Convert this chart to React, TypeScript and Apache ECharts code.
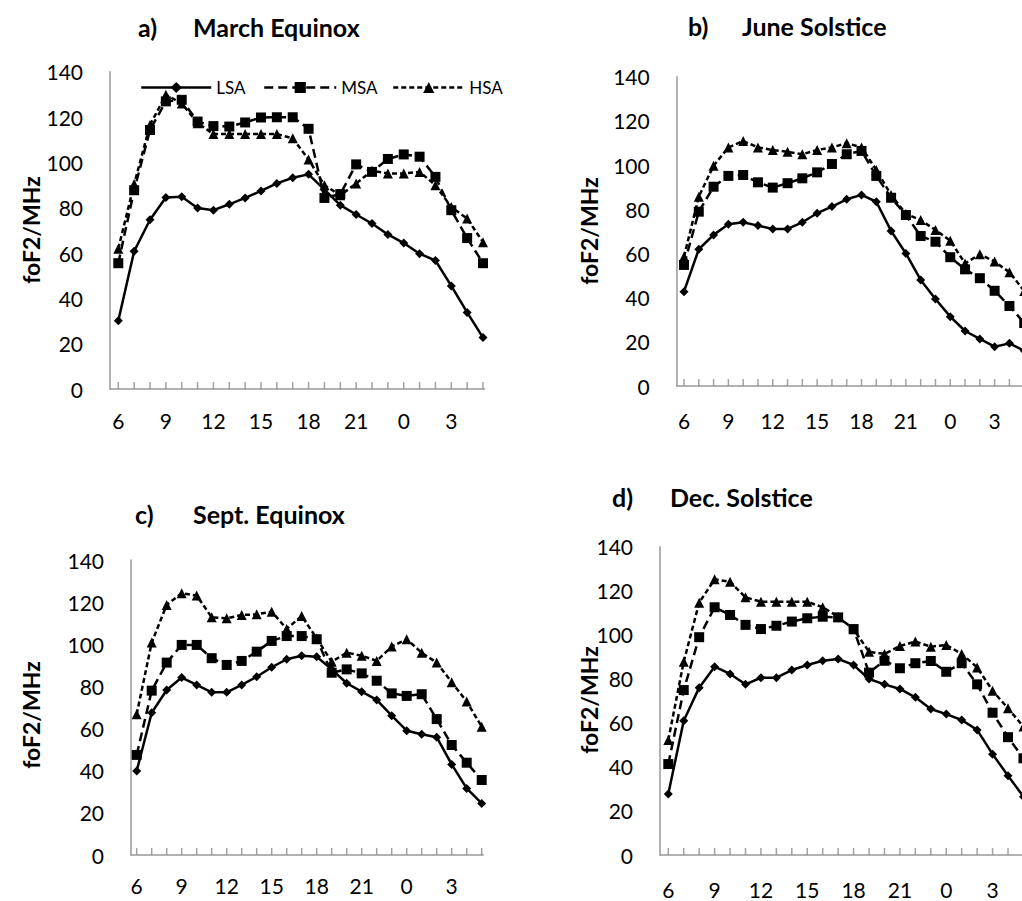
import React, { useEffect, useRef } from "react";
import * as echarts from "echarts";

// Hours of the day (local time), one point per hour, from 06 to 05 next day
const HOURS = [6, 7, 8, 9, 10, 11, 12, 13, 14, 15, 16, 17, 18, 19, 20, 21, 22, 23, 0, 1, 2, 3, 4, 5];
const TICK_LABELS = [6, 9, 12, 15, 18, 21, 0, 3];
const SERIES_NAMES = ["LSA", "MSA", "HSA"];

// a) March Equinox
const MARCH_LSA = [30.1, 60.8, 74.7, 84.5, 84.8, 79.9, 78.9, 81.5, 84.3, 87.4, 90.7, 93.2, 94.7, 88, 81.1, 77, 73, 68.2, 64.4, 59.7, 56.7, 45.5, 33.8, 22.7];
const MARCH_MSA = [55.5, 87.7, 114.3, 126.9, 127.6, 118, 116, 115.8, 117.6, 119.8, 119.9, 119.9, 114.8, 84.3, 86, 99.1, 95.8, 101.5, 103.5, 102.5, 93.6, 78.9, 66.6, 55.5];
const MARCH_HSA = [61.9, 90.4, 116.5, 129.8, 126, 117.3, 112.5, 112.5, 112.5, 112.5, 112.5, 110.6, 101.3, 89.9, 85.5, 90.7, 96.3, 95.1, 95.1, 95.8, 89.9, 80.3, 75.2, 64.8];

// b) June Solstice
const JUNE_LSA = [42.7, 61.9, 68.4, 73.2, 74.1, 72.6, 71.1, 71.1, 74.1, 78.2, 81.2, 84.5, 86.5, 83.4, 70.2, 60, 48, 39.4, 31.4, 24.9, 21.3, 17.8, 19.3, 16];
const JUNE_MSA = [54.8, 78.9, 90.2, 95.1, 95.5, 92.2, 89.8, 91.8, 94, 96.7, 100.5, 104.9, 106.4, 95.1, 85.2, 77.4, 67.9, 65.3, 58.3, 52.8, 48.8, 43.1, 36.2, 28.5];
const JUNE_HSA = [58.5, 85.7, 99.7, 108, 110.9, 108, 106.8, 106, 104.9, 106.8, 108, 109.9, 108, 97.8, 86.5, 77.9, 75.1, 70.6, 65.8, 55.5, 59.6, 56.3, 51.5, 43];

// c) Sept. Equinox
const SEPT_LSA = [39.9, 67.5, 78.3, 84.2, 80.7, 77.2, 77.2, 80.7, 84.6, 89.1, 92.9, 94.6, 94.1, 88.1, 81.5, 77.5, 73.6, 66.1, 59, 57.3, 55.9, 43, 31.6, 24.5];
const SEPT_MSA = [47.5, 78, 91.3, 99.7, 99.7, 93.4, 90.2, 92.1, 96.5, 101.6, 103.9, 103.9, 102.4, 86.5, 88.1, 86.2, 82.7, 76.7, 75.5, 76.3, 64.5, 52.2, 43.8, 35.6];
const SEPT_HSA = [66.8, 100.8, 118.7, 124.2, 123.1, 112.8, 112.3, 113.9, 114.2, 115.5, 107.3, 113.4, 102.8, 91.7, 96, 94.6, 92.1, 98.9, 102.4, 96, 91.3, 82, 72.8, 60.9];

// d) Dec. Solstice
const DEC_LSA = [27.7, 61, 76, 85.5, 82.2, 77.5, 80.5, 80.5, 84, 86.3, 88.2, 89, 86.3, 79.9, 77.5, 75.4, 71.6, 66.3, 64, 61.3, 56.8, 45.8, 36, 26.5];
const DEC_MSA = [41.3, 74.9, 98.9, 112.5, 109, 104.5, 102.6, 104.1, 106, 107.5, 108.2, 107.9, 102.6, 82.8, 88.2, 84.8, 87.1, 88.1, 83.2, 87.1, 77.5, 64.6, 53.5, 43.9];
const DEC_HSA = [52.2, 87.8, 114.6, 125.2, 124.1, 117, 115, 115, 115, 115, 112.5, 108.2, 102.5, 92.3, 91.3, 94.9, 96.9, 94.6, 95.4, 91.3, 85.2, 74.6, 66.6, 58.3];

const toPos = (h: number) => (h < 6 ? h + 24 : h);

const PANELS = [
  { letter: "a)", title: "March Equinox", data: [MARCH_LSA, MARCH_MSA, MARCH_HSA],
    grid: { left: 110, top: 71.7, width: 374.6, height: 317.3 }, xmin: 5.477, xmax: 29.1, labelMargin: 21,
    titleY: 27, letterX: 138, titleX: 193, nameX: 31, nameY: 230 },
  { letter: "b)", title: "June Solstice", data: [JUNE_LSA, JUNE_MSA, JUNE_HSA],
    grid: { left: 676.7, top: 76.7, width: 349, height: 309.3 }, xmin: 5.507, xmax: 29.1, labelMargin: 24,
    titleY: 26, letterX: 688, titleX: 742, nameX: 589, nameY: 231 },
  { letter: "c)", title: "Sept. Equinox", data: [SEPT_LSA, SEPT_MSA, SEPT_HSA],
    grid: { left: 131, top: 560, width: 352.2, height: 295 }, xmin: 5.62, xmax: 29.1, labelMargin: 20,
    titleY: 514, letterX: 135, titleX: 193, nameX: 31, nameY: 715 },
  { letter: "d)", title: "Dec. Solstice", data: [DEC_LSA, DEC_MSA, DEC_HSA],
    grid: { left: 660, top: 546.7, width: 365, height: 308.3 }, xmin: 5.463, xmax: 29.1, labelMargin: 24,
    titleY: 497, letterX: 612, titleX: 670, nameX: 589, nameY: 700 },
];

const FONT = "Lato, 'Open Sans', sans-serif";
const AXIS_COLOR = "#999999";
const TICK_COLOR = "#8c8c8c";

const STYLES = [
  { symbol: "diamond", symbolSize: 9, lineType: "solid" as any },
  { symbol: "rect", symbolSize: 10, lineType: [9, 5] as any },
  { symbol: "triangle", symbolSize: 10, lineType: [5, 3] as any },
];

export default function App() {
  const ref = useRef<HTMLDivElement>(null);

  useEffect(() => {
    if (!ref.current) return;
    const chart = echarts.init(ref.current, undefined, { renderer: "svg" });

    const grids = PANELS.map((p) => ({ ...p.grid, containLabel: false, outerBoundsMode: "none" }));

    const xAxes = PANELS.map((p, i) => ({
      gridIndex: i,
      type: "value",
      min: p.xmin,
      max: p.xmax,
      axisLine: { show: true, lineStyle: { color: AXIS_COLOR, width: 1.5 } },
      axisTick: { show: false },
      axisLabel: {
        customValues: TICK_LABELS.map(toPos),
        formatter: (v: number) => String(Math.round(v) % 24),
        margin: p.labelMargin,
        fontSize: 21,
        fontFamily: FONT,
        color: "#000",
      },
      splitLine: { show: false },
    }));

    const yAxes = PANELS.map((p, i) => ({
      gridIndex: i,
      type: "value",
      min: 0,
      max: 140,
      interval: 20,
      axisLine: { show: true, lineStyle: { color: AXIS_COLOR, width: 1.5 } },
      axisTick: { show: false },
      axisLabel: { margin: 27, fontSize: 21, fontFamily: FONT, color: "#000" },
      splitLine: { show: false },
    }));

    const series: any[] = [];
    PANELS.forEach((p, i) => {
      // hourly tick marks standing on the x axis, placed through the axis scale
      series.push({
        name: "hour-ticks",
        type: "scatter",
        xAxisIndex: i,
        yAxisIndex: i,
        data: HOURS.map((h) => [toPos(h), 0]),
        symbol: "rect",
        symbolSize: [1.5, 7],
        symbolOffset: [0, -3.5],
        itemStyle: { color: TICK_COLOR },
        silent: true,
        clip: false,
        z: 1,
      });
      p.data.forEach((vals, k) => {
        const st = STYLES[k];
        series.push({
          name: SERIES_NAMES[k],
          type: "line",
          xAxisIndex: i,
          yAxisIndex: i,
          data: HOURS.map((h, j) => [toPos(h), vals[j]]),
          symbol: st.symbol,
          symbolSize: st.symbolSize,
          clip: false,
          z: 3,
          lineStyle: { color: "#000", width: 2.5, type: st.lineType },
          itemStyle: { color: "#000", borderWidth: 0 },
        });
      });
    });

    const legendPos = [
      { left: 140, itemWidth: 70 },
      { left: 263, itemWidth: 72 },
      { left: 392, itemWidth: 71 },
    ];
    const legends = SERIES_NAMES.map((n, k) => ({
      data: [n],
      left: legendPos[k].left,
      top: 79,
      itemWidth: legendPos[k].itemWidth,
      itemHeight: 14,
      padding: 0,
      lineStyle: { width: 2.5, color: "#000", type: STYLES[k].lineType },
      textStyle: { fontSize: 17, fontFamily: FONT, color: "#000" },
      selectedMode: false,
    }));

    const graphics: any[] = [];
    PANELS.forEach((p) => {
      graphics.push({
        type: "text",
        x: p.letterX,
        y: p.titleY,
        style: { text: p.letter, fontSize: 25, fontWeight: "bold", fontFamily: FONT, fill: "#000", align: "left", verticalAlign: "middle" },
      });
      graphics.push({
        type: "text",
        x: p.titleX,
        y: p.titleY,
        style: { text: p.title, fontSize: 25, fontWeight: "bold", fontFamily: FONT, fill: "#000", align: "left", verticalAlign: "middle" },
      });
      graphics.push({
        type: "text",
        x: p.nameX,
        y: p.nameY,
        rotation: Math.PI / 2,
        style: { text: "foF2/MHz", fontSize: 23, fontWeight: "bold", fontFamily: FONT, fill: "#000", align: "center", verticalAlign: "middle" },
      });
    });

    chart.setOption({
      animation: false,
      backgroundColor: "#fff",
      grid: grids,
      xAxis: xAxes,
      yAxis: yAxes,
      legend: legends,
      series,
      graphic: graphics,
    });

    return () => chart.dispose();
  }, []);

  return (
    <div
      ref={ref}
      style={{ position: "absolute", left: 0, top: 0, width: 1022, height: 901, background: "#fff", overflow: "hidden" }}
    />
  );
}
